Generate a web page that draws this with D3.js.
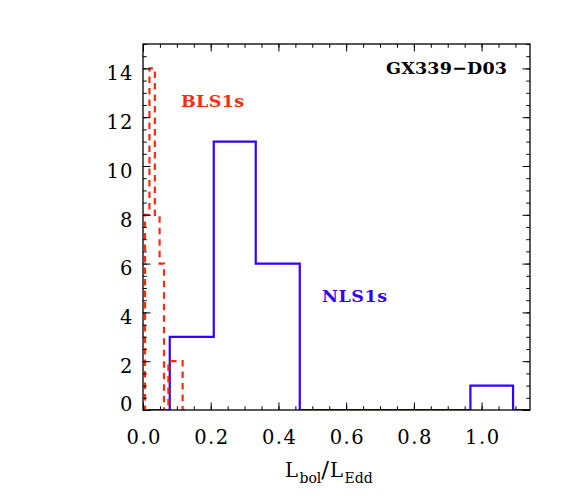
<!DOCTYPE html>
<html>
<head>
<meta charset="utf-8">
<script src="https://cdn.jsdelivr.net/npm/d3@7"></script>
<style>
  html, body { margin: 0; padding: 0; background: #fff; }
  svg { display: block; }
</style>
</head>
<body>
<svg id="chart" width="573" height="501"></svg>
<script>
// ---- data ----
const xTickValues = [0.0, 0.2, 0.4, 0.6, 0.8, 1.0];
const yTickValues = [0, 2, 4, 6, 8, 10, 12, 14];

// BLS1s histogram (red dashed): bin edges and counts
const blsEdges  = [0.000, 0.006, 0.019, 0.035, 0.049, 0.062, 0.075, 0.117, 0.124];
const blsCounts = [0, 8, 14, 8, 6, 0, 2, 0];

// NLS1s histogram (blue solid): bin edges and counts
const nlsEdges  = [0.017, 0.079, 0.209, 0.333, 0.463, 0.967, 1.093, 1.143];
const nlsCounts = [0, 3, 11, 6, 0, 1, 0];

const labelTitle = "GX339\u2212D03";
const labelBLS = "BLS1s";
const labelNLS = "NLS1s";

// ---- layout ----
const svg = d3.select("#chart");
const L = 143, R = 530, T = 44, B = 410;
const x = d3.scaleLinear().domain([0, 1.143]).range([L, R]);
const y = d3.scaleLinear().domain([0, 15]).range([B, T]);

const serif = "'DejaVu Serif', serif";
const blue = "#3300ff";
const red = "#ff2a10";

svg.append("defs").append("clipPath").attr("id", "clip")
  .append("rect").attr("x", L).attr("y", T).attr("width", R - L).attr("height", B - T);

function stepPath(edges, counts) {
  let pts = [[edges[0], counts[0]]];
  for (let i = 0; i < counts.length; i++) {
    pts.push([edges[i + 1], counts[i]]);
    if (i + 1 < counts.length) pts.push([edges[i + 1], counts[i + 1]]);
  }
  return d3.line().x(d => x(d[0])).y(d => y(d[1]))(pts);
}

const plot = svg.append("g").attr("clip-path", "url(#clip)");
plot.append("path")
  .attr("d", stepPath(nlsEdges, nlsCounts))
  .attr("fill", "none").attr("stroke", blue).attr("stroke-width", 2.2);
plot.append("path")
  .attr("d", stepPath(blsEdges, blsCounts))
  .attr("fill", "none").attr("stroke", red).attr("stroke-width", 2.2)
  .attr("stroke-dasharray", "6.5,5");

// ---- axes ----
const majorLen = 7.5, minorLen = 3.75;
const xMinor = d3.range(0, 1.15, 0.05);
const yMinor = d3.range(0, 15.01, 0.5);

function styleAxis(g) {
  g.select(".domain").remove();
  g.selectAll(".tick line").attr("stroke", "#000").attr("stroke-width", 1);
  g.selectAll("text").attr("font-family", serif).attr("font-size", 19.5).attr("fill", "#000");
}

// bottom
svg.append("g").attr("transform", `translate(0,${B})`)
  .call(d3.axisBottom(x).tickValues(xMinor).tickSize(-minorLen).tickFormat(""))
  .call(styleAxis);
const xb = svg.append("g").attr("transform", `translate(0,${B})`)
  .call(d3.axisBottom(x).tickValues(xTickValues).tickSize(-majorLen).tickPadding(20)
    .tickFormat(d3.format(".1f")))
  .call(styleAxis);
xb.selectAll("text").attr("textLength", 34).attr("lengthAdjust", "spacing");
// top
svg.append("g").attr("transform", `translate(0,${T})`)
  .call(d3.axisTop(x).tickValues(xMinor).tickSize(-minorLen).tickFormat(""))
  .call(styleAxis);
svg.append("g").attr("transform", `translate(0,${T})`)
  .call(d3.axisTop(x).tickValues(xTickValues).tickSize(-majorLen).tickFormat(""))
  .call(styleAxis);
// left
svg.append("g").attr("transform", `translate(${L},0)`)
  .call(d3.axisLeft(y).tickValues(yMinor).tickSize(-minorLen).tickFormat(""))
  .call(styleAxis);
const yl = svg.append("g").attr("transform", `translate(${L},0)`)
  .call(d3.axisLeft(y).tickValues(yTickValues).tickSize(-majorLen).tickPadding(10.5)
    .tickFormat(d3.format("d")))
  .call(styleAxis);
yl.selectAll("text").attr("dy", d => d === 0 ? "0em" : "0.58em");
yl.selectAll("text").filter(d => d >= 10).attr("textLength", 26).attr("lengthAdjust", "spacing");
// right
svg.append("g").attr("transform", `translate(${R},0)`)
  .call(d3.axisRight(y).tickValues(yMinor).tickSize(-minorLen).tickFormat(""))
  .call(styleAxis);
svg.append("g").attr("transform", `translate(${R},0)`)
  .call(d3.axisRight(y).tickValues(yTickValues).tickSize(-majorLen).tickFormat(""))
  .call(styleAxis);

// frame
svg.append("rect").attr("x", L).attr("y", T).attr("width", R - L).attr("height", B - T)
  .attr("fill", "none").attr("stroke", "#000").attr("stroke-width", 1.3);

// ---- annotations ----
svg.append("text").attr("x", 507).attr("y", 73.5).attr("text-anchor", "end")
  .attr("font-family", serif).attr("font-weight", "bold").attr("font-size", 17.5)
  .attr("textLength", 121).attr("lengthAdjust", "spacing")
  .attr("fill", "#000").text(labelTitle);
svg.append("text").attr("x", 181).attr("y", 106.5)
  .attr("font-family", serif).attr("font-weight", "bold").attr("font-size", 17.5)
  .attr("textLength", 63).attr("lengthAdjust", "spacing")
  .attr("fill", red).text(labelBLS);
svg.append("text").attr("x", 322).attr("y", 301.5)
  .attr("font-family", serif).attr("font-weight", "bold").attr("font-size", 17.5)
  .attr("textLength", 65).attr("lengthAdjust", "spacing")
  .attr("fill", blue).text(labelNLS);

// x-axis title: L_bol / L_Edd
const xt = svg.append("text").attr("x", 285).attr("y", 476.5)
  .attr("font-family", serif).attr("font-size", 19.5).attr("fill", "#000");
xt.append("tspan").text("L");
xt.append("tspan").attr("dx", 1.5).attr("dy", 6).attr("font-size", 14).text("bol");
xt.append("tspan").attr("dy", -6).attr("font-size", 23).text("/");
xt.append("tspan").attr("dx", 1).text("L");
xt.append("tspan").attr("dx", 1.5).attr("dy", 6).attr("font-size", 14).text("Edd");
</script>
</body>
</html>
